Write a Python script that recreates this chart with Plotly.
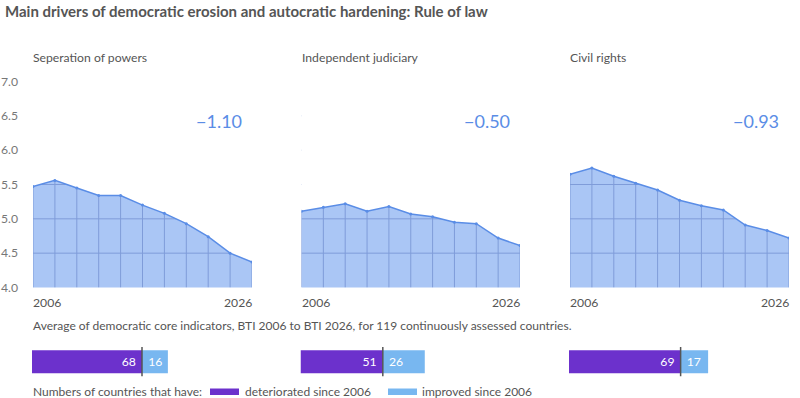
import plotly.graph_objects as go

# ---------------- data ----------------
years = [2006, 2008, 2010, 2012, 2014, 2016, 2018, 2020, 2022, 2024, 2026]
panel_titles = ["Seperation of powers", "Independent judiciary", "Civil rights"]
separation_of_powers = [5.47, 5.56, 5.45, 5.34, 5.34, 5.20, 5.08, 4.93, 4.74, 4.50, 4.37]
independent_judiciary = [5.11, 5.17, 5.22, 5.11, 5.18, 5.07, 5.03, 4.95, 4.93, 4.72, 4.61]
civil_rights = [5.65, 5.74, 5.62, 5.52, 5.42, 5.27, 5.19, 5.13, 4.91, 4.83, 4.72]
deteriorated = [68, 51, 69]
improved = [16, 26, 17]
y_ticks = [4.0, 4.5, 5.0, 5.5, 6.0, 6.5, 7.0]
series = [separation_of_powers, independent_judiciary, civil_rights]

# ---------------- style ----------------
W, H = 800, 398
FONT = "Lato"
FILL = "#aac6f5"
GRID = "#7f9cd9"
LINE = "#5a8de6"
PURPLE = "#6c31cc"
LIGHTBLUE = "#78b7f0"
GRAYTXT = "#555555"
TICKTXT = "#777777"

def px_x(p):
    return p / W

def px_y(p):
    return (H - p) / H

domains = [(33, 252), (301.5, 520), (570, 789)]
line_dom_y = [px_y(287.5), px_y(81.5)]
bar_dom_y = [px_y(376.5), px_y(347)]

fig = go.Figure()
annotations = []
shapes = []
layout = dict()

for i, vals in enumerate(series):
    n = i + 1
    xa = "x" if n == 1 else f"x{n}"
    ya = "y" if n == 1 else f"y{n}"
    # filled area
    fig.add_trace(go.Scatter(x=years, y=vals, fill="tozeroy", fillcolor=FILL,
                             mode="lines", line=dict(width=0), xaxis=xa, yaxis=ya,
                             hoverinfo="skip", showlegend=False))
    # horizontal grid lines (masked above the curve) and vertical lines up to each value
    gx, gy = [], []
    for t in y_ticks[1:-1]:
        gx += [years[0], years[-1], None]
        gy += [t, t, None]
    for yr, v in zip(years, vals):
        gx += [yr, yr, None]
        gy += [y_ticks[0], v, None]
    fig.add_trace(go.Scatter(x=gx, y=gy, mode="lines", line=dict(color=GRID, width=1),
                             xaxis=xa, yaxis=ya, hoverinfo="skip", showlegend=False))
    # white mask between the curve and the top of the axis
    fig.add_trace(go.Scatter(x=years, y=[y_ticks[-1]] * len(years), mode="lines",
                             line=dict(width=0), xaxis=xa, yaxis=ya,
                             hoverinfo="skip", showlegend=False))
    fig.add_trace(go.Scatter(x=years, y=vals, fill="tonexty", fillcolor="white",
                             mode="lines+markers", line=dict(color=LINE, width=1.5),
                             marker=dict(size=3, color=LINE),
                             xaxis=xa, yaxis=ya, showlegend=False))
    d0, d1 = domains[i]
    layout["xaxis" if n == 1 else f"xaxis{n}"] = dict(
        domain=[px_x(d0), px_x(d1)], range=[years[0], years[-1]],
        showgrid=False, zeroline=False, showticklabels=False, showline=False,
        automargin=False, anchor=ya)
    layout["yaxis" if n == 1 else f"yaxis{n}"] = dict(
        domain=line_dom_y, range=[y_ticks[0], y_ticks[-1]],
        showgrid=False, zeroline=False, showline=False, automargin=False,
        tickvals=y_ticks, tickformat=".1f", showticklabels=(n == 1),
        ticklabelstandoff=14, tickfont=dict(family=FONT, size=12.2, color=TICKTXT),
        anchor=xa)
    # x labels
    annotations.append(dict(x=years[0], y=y_ticks[0], xref=xa, yref=ya, text=str(years[0]),
                            xanchor="left", yanchor="top", yshift=-5, xshift=-2, showarrow=False,
                            font=dict(family=FONT, size=12.2, color=GRAYTXT)))
    annotations.append(dict(x=years[-1], y=y_ticks[0], xref=xa, yref=ya, text=str(years[-1]),
                            xanchor="right", yanchor="top", yshift=-5, xshift=2, showarrow=False,
                            font=dict(family=FONT, size=12.2, color=GRAYTXT)))
    # change value
    diff = vals[-1] - vals[0]
    annotations.append(dict(x=2023.0, y=6.42, xref=xa, yref=ya,
                            text=f"{diff:.2f}".replace("-", "\u2212"),
                            xanchor="center", yanchor="middle", showarrow=False,
                            font=dict(family=FONT, size=18, color=LINE)))
    # panel title
    annotations.append(dict(x=px_x(d0), y=px_y(57), xref="paper", yref="paper", xshift=-2,
                            text=panel_titles[i], xanchor="left", yanchor="middle",
                            showarrow=False, font=dict(family=FONT, size=12.2, color=GRAYTXT)))

    # stacked bar of country counts
    bn = n + 3
    bxa, bya = f"x{bn}", f"y{bn}"
    fig.add_trace(go.Bar(x=[deteriorated[i]], y=[0], orientation="h", marker=dict(color=PURPLE, line=dict(width=0)),
                         width=0.78, text=[f"{deteriorated[i]}\u00a0"], textposition="inside",
                         insidetextanchor="end", constraintext="none",
                         insidetextfont=dict(family=FONT, size=12.2, color="white"),
                         xaxis=bxa, yaxis=bya, showlegend=False))
    fig.add_trace(go.Bar(x=[improved[i]], y=[0], base=[deteriorated[i]], orientation="h",
                         marker=dict(color=LIGHTBLUE, line=dict(width=0)),
                         width=0.78, text=[f"\u00a0{improved[i]}"], textposition="inside",
                         insidetextanchor="start", constraintext="none",
                         insidetextfont=dict(family=FONT, size=12.2, color="white"),
                         xaxis=bxa, yaxis=bya, showlegend=False))
    fig.add_trace(go.Scatter(x=[deteriorated[i], deteriorated[i]], y=[-0.5, 0.5], mode="lines",
                             line=dict(color="#555555", width=1.5), xaxis=bxa, yaxis=bya,
                             hoverinfo="skip", showlegend=False))
    layout[f"xaxis{bn}"] = dict(domain=[px_x(d0 - 1), px_x(d1)], range=[0, 136],
                                showgrid=False, zeroline=False, showticklabels=False,
                                showline=False, automargin=False, anchor=bya)
    layout[f"yaxis{bn}"] = dict(domain=bar_dom_y, range=[-0.5, 0.5], showgrid=False,
                                zeroline=False, showticklabels=False, showline=False,
                                automargin=False, anchor=bxa)

# title and notes
annotations.append(dict(x=px_x(3), y=px_y(11), xref="paper", yref="paper",
                        text="<b>Main drivers of democratic erosion and autocratic hardening: Rule of law</b>",
                        xanchor="left", yanchor="middle", showarrow=False,
                        font=dict(family=FONT, size=15, color=GRAYTXT)))
annotations.append(dict(x=px_x(33), y=px_y(325), xref="paper", yref="paper", xshift=-2,
                        text="Average of democratic core indicators, BTI 2006 to BTI 2026, for 119 continuously assessed countries.",
                        xanchor="left", yanchor="middle", showarrow=False,
                        font=dict(family=FONT, size=12, color=GRAYTXT)))
# legend
annotations.append(dict(x=px_x(33), y=px_y(391), xref="paper", yref="paper", xshift=-2,
                        text="Numbers of countries that have:", xanchor="left", yanchor="middle",
                        showarrow=False, font=dict(family=FONT, size=12, color=GRAYTXT)))
annotations.append(dict(x=px_x(245), y=px_y(391), xref="paper", yref="paper", xshift=-2,
                        text="deteriorated since 2006", xanchor="left", yanchor="middle",
                        showarrow=False, font=dict(family=FONT, size=12, color=GRAYTXT)))
annotations.append(dict(x=px_x(422), y=px_y(391), xref="paper", yref="paper", xshift=-2,
                        text="improved since 2006", xanchor="left", yanchor="middle",
                        showarrow=False, font=dict(family=FONT, size=12, color=GRAYTXT)))
shapes.append(dict(type="rect", xref="paper", yref="paper", x0=px_x(210), x1=px_x(239),
                   y0=px_y(395), y1=px_y(388.5), fillcolor=PURPLE, line=dict(width=0)))
shapes.append(dict(type="rect", xref="paper", yref="paper", x0=px_x(388), x1=px_x(417),
                   y0=px_y(395), y1=px_y(388.5), fillcolor=LIGHTBLUE, line=dict(width=0)))

fig.update_layout(width=W, height=H, margin=dict(l=0, r=0, t=0, b=0, pad=0, autoexpand=False),
                  paper_bgcolor="white", plot_bgcolor="rgba(0,0,0,0)",
                  barmode="overlay", annotations=annotations, shapes=shapes,
                  font=dict(family=FONT), hovermode=False, **layout)

fig.write_html("out.html", config={"displayModeBar": False},
               post_script="document.body.style.margin='0';")
